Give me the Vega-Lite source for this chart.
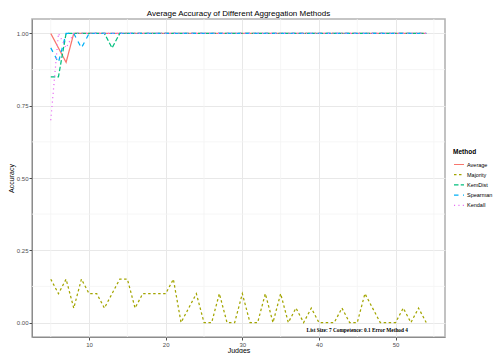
{
  "$schema": "https://vega.github.io/schema/vega-lite/v6.json",
  "width": 413,
  "height": 318,
  "autosize": {"type": "none"},
  "padding": {"left": 32, "top": 19, "right": 50, "bottom": 16},
  "background": "white",
  "title": {"text": "Average Accuracy of Different Aggregation Methods", "font": "Liberation Sans", "fontSize": 8, "fontWeight": "normal", "color": "#000000", "anchor": "middle", "offset": 1},
  "config": {
    "view": {"stroke": "#b3b3b3", "strokeWidth": 1.6},
    "axis": {"labelFont": "Liberation Sans", "titleFont": "Liberation Sans", "labelColor": "#4d4d4d", "titleColor": "#000000", "titleFontWeight": "normal", "tickColor": "#4d4d4d", "tickSize": 3, "domainColor": "#8c8c8c", "domainWidth": 1, "gridColor": "#e8e8e8", "gridWidth": 1}
  },
  "datasets": {
    "acc": [
      {"Judges": 5, "Method": "Average", "Accuracy": 1.0},
      {"Judges": 6, "Method": "Average", "Accuracy": 0.95},
      {"Judges": 7, "Method": "Average", "Accuracy": 0.9},
      {"Judges": 8, "Method": "Average", "Accuracy": 1.0},
      {"Judges": 9, "Method": "Average", "Accuracy": 1.0},
      {"Judges": 10, "Method": "Average", "Accuracy": 1.0},
      {"Judges": 11, "Method": "Average", "Accuracy": 1.0},
      {"Judges": 12, "Method": "Average", "Accuracy": 1.0},
      {"Judges": 13, "Method": "Average", "Accuracy": 1.0},
      {"Judges": 14, "Method": "Average", "Accuracy": 1.0},
      {"Judges": 15, "Method": "Average", "Accuracy": 1.0},
      {"Judges": 16, "Method": "Average", "Accuracy": 1.0},
      {"Judges": 17, "Method": "Average", "Accuracy": 1.0},
      {"Judges": 18, "Method": "Average", "Accuracy": 1.0},
      {"Judges": 19, "Method": "Average", "Accuracy": 1.0},
      {"Judges": 20, "Method": "Average", "Accuracy": 1.0},
      {"Judges": 21, "Method": "Average", "Accuracy": 1.0},
      {"Judges": 22, "Method": "Average", "Accuracy": 1.0},
      {"Judges": 23, "Method": "Average", "Accuracy": 1.0},
      {"Judges": 24, "Method": "Average", "Accuracy": 1.0},
      {"Judges": 25, "Method": "Average", "Accuracy": 1.0},
      {"Judges": 26, "Method": "Average", "Accuracy": 1.0},
      {"Judges": 27, "Method": "Average", "Accuracy": 1.0},
      {"Judges": 28, "Method": "Average", "Accuracy": 1.0},
      {"Judges": 29, "Method": "Average", "Accuracy": 1.0},
      {"Judges": 30, "Method": "Average", "Accuracy": 1.0},
      {"Judges": 31, "Method": "Average", "Accuracy": 1.0},
      {"Judges": 32, "Method": "Average", "Accuracy": 1.0},
      {"Judges": 33, "Method": "Average", "Accuracy": 1.0},
      {"Judges": 34, "Method": "Average", "Accuracy": 1.0},
      {"Judges": 35, "Method": "Average", "Accuracy": 1.0},
      {"Judges": 36, "Method": "Average", "Accuracy": 1.0},
      {"Judges": 37, "Method": "Average", "Accuracy": 1.0},
      {"Judges": 38, "Method": "Average", "Accuracy": 1.0},
      {"Judges": 39, "Method": "Average", "Accuracy": 1.0},
      {"Judges": 40, "Method": "Average", "Accuracy": 1.0},
      {"Judges": 41, "Method": "Average", "Accuracy": 1.0},
      {"Judges": 42, "Method": "Average", "Accuracy": 1.0},
      {"Judges": 43, "Method": "Average", "Accuracy": 1.0},
      {"Judges": 44, "Method": "Average", "Accuracy": 1.0},
      {"Judges": 45, "Method": "Average", "Accuracy": 1.0},
      {"Judges": 46, "Method": "Average", "Accuracy": 1.0},
      {"Judges": 47, "Method": "Average", "Accuracy": 1.0},
      {"Judges": 48, "Method": "Average", "Accuracy": 1.0},
      {"Judges": 49, "Method": "Average", "Accuracy": 1.0},
      {"Judges": 50, "Method": "Average", "Accuracy": 1.0},
      {"Judges": 51, "Method": "Average", "Accuracy": 1.0},
      {"Judges": 52, "Method": "Average", "Accuracy": 1.0},
      {"Judges": 53, "Method": "Average", "Accuracy": 1.0},
      {"Judges": 54, "Method": "Average", "Accuracy": 1.0},
      {"Judges": 5, "Method": "Majority", "Accuracy": 0.15},
      {"Judges": 6, "Method": "Majority", "Accuracy": 0.1},
      {"Judges": 7, "Method": "Majority", "Accuracy": 0.15},
      {"Judges": 8, "Method": "Majority", "Accuracy": 0.05},
      {"Judges": 9, "Method": "Majority", "Accuracy": 0.15},
      {"Judges": 10, "Method": "Majority", "Accuracy": 0.1},
      {"Judges": 11, "Method": "Majority", "Accuracy": 0.1},
      {"Judges": 12, "Method": "Majority", "Accuracy": 0.05},
      {"Judges": 13, "Method": "Majority", "Accuracy": 0.1},
      {"Judges": 14, "Method": "Majority", "Accuracy": 0.15},
      {"Judges": 15, "Method": "Majority", "Accuracy": 0.15},
      {"Judges": 16, "Method": "Majority", "Accuracy": 0.05},
      {"Judges": 17, "Method": "Majority", "Accuracy": 0.1},
      {"Judges": 18, "Method": "Majority", "Accuracy": 0.1},
      {"Judges": 19, "Method": "Majority", "Accuracy": 0.1},
      {"Judges": 20, "Method": "Majority", "Accuracy": 0.1},
      {"Judges": 21, "Method": "Majority", "Accuracy": 0.15},
      {"Judges": 22, "Method": "Majority", "Accuracy": 0.0},
      {"Judges": 23, "Method": "Majority", "Accuracy": 0.05},
      {"Judges": 24, "Method": "Majority", "Accuracy": 0.1},
      {"Judges": 25, "Method": "Majority", "Accuracy": 0.0},
      {"Judges": 26, "Method": "Majority", "Accuracy": 0.0},
      {"Judges": 27, "Method": "Majority", "Accuracy": 0.1},
      {"Judges": 28, "Method": "Majority", "Accuracy": 0.0},
      {"Judges": 29, "Method": "Majority", "Accuracy": 0.0},
      {"Judges": 30, "Method": "Majority", "Accuracy": 0.1},
      {"Judges": 31, "Method": "Majority", "Accuracy": 0.0},
      {"Judges": 32, "Method": "Majority", "Accuracy": 0.0},
      {"Judges": 33, "Method": "Majority", "Accuracy": 0.1},
      {"Judges": 34, "Method": "Majority", "Accuracy": 0.0},
      {"Judges": 35, "Method": "Majority", "Accuracy": 0.1},
      {"Judges": 36, "Method": "Majority", "Accuracy": 0.0},
      {"Judges": 37, "Method": "Majority", "Accuracy": 0.05},
      {"Judges": 38, "Method": "Majority", "Accuracy": 0.0},
      {"Judges": 39, "Method": "Majority", "Accuracy": 0.05},
      {"Judges": 40, "Method": "Majority", "Accuracy": 0.0},
      {"Judges": 41, "Method": "Majority", "Accuracy": 0.0},
      {"Judges": 42, "Method": "Majority", "Accuracy": 0.0},
      {"Judges": 43, "Method": "Majority", "Accuracy": 0.05},
      {"Judges": 44, "Method": "Majority", "Accuracy": 0.0},
      {"Judges": 45, "Method": "Majority", "Accuracy": 0.0},
      {"Judges": 46, "Method": "Majority", "Accuracy": 0.1},
      {"Judges": 47, "Method": "Majority", "Accuracy": 0.05},
      {"Judges": 48, "Method": "Majority", "Accuracy": 0.0},
      {"Judges": 49, "Method": "Majority", "Accuracy": 0.0},
      {"Judges": 50, "Method": "Majority", "Accuracy": 0.0},
      {"Judges": 51, "Method": "Majority", "Accuracy": 0.05},
      {"Judges": 52, "Method": "Majority", "Accuracy": 0.0},
      {"Judges": 53, "Method": "Majority", "Accuracy": 0.05},
      {"Judges": 54, "Method": "Majority", "Accuracy": 0.0},
      {"Judges": 5, "Method": "KemDist", "Accuracy": 0.85},
      {"Judges": 6, "Method": "KemDist", "Accuracy": 0.85},
      {"Judges": 7, "Method": "KemDist", "Accuracy": 1.0},
      {"Judges": 8, "Method": "KemDist", "Accuracy": 1.0},
      {"Judges": 9, "Method": "KemDist", "Accuracy": 1.0},
      {"Judges": 10, "Method": "KemDist", "Accuracy": 1.0},
      {"Judges": 11, "Method": "KemDist", "Accuracy": 1.0},
      {"Judges": 12, "Method": "KemDist", "Accuracy": 1.0},
      {"Judges": 13, "Method": "KemDist", "Accuracy": 0.95},
      {"Judges": 14, "Method": "KemDist", "Accuracy": 1.0},
      {"Judges": 15, "Method": "KemDist", "Accuracy": 1.0},
      {"Judges": 16, "Method": "KemDist", "Accuracy": 1.0},
      {"Judges": 17, "Method": "KemDist", "Accuracy": 1.0},
      {"Judges": 18, "Method": "KemDist", "Accuracy": 1.0},
      {"Judges": 19, "Method": "KemDist", "Accuracy": 1.0},
      {"Judges": 20, "Method": "KemDist", "Accuracy": 1.0},
      {"Judges": 21, "Method": "KemDist", "Accuracy": 1.0},
      {"Judges": 22, "Method": "KemDist", "Accuracy": 1.0},
      {"Judges": 23, "Method": "KemDist", "Accuracy": 1.0},
      {"Judges": 24, "Method": "KemDist", "Accuracy": 1.0},
      {"Judges": 25, "Method": "KemDist", "Accuracy": 1.0},
      {"Judges": 26, "Method": "KemDist", "Accuracy": 1.0},
      {"Judges": 27, "Method": "KemDist", "Accuracy": 1.0},
      {"Judges": 28, "Method": "KemDist", "Accuracy": 1.0},
      {"Judges": 29, "Method": "KemDist", "Accuracy": 1.0},
      {"Judges": 30, "Method": "KemDist", "Accuracy": 1.0},
      {"Judges": 31, "Method": "KemDist", "Accuracy": 1.0},
      {"Judges": 32, "Method": "KemDist", "Accuracy": 1.0},
      {"Judges": 33, "Method": "KemDist", "Accuracy": 1.0},
      {"Judges": 34, "Method": "KemDist", "Accuracy": 1.0},
      {"Judges": 35, "Method": "KemDist", "Accuracy": 1.0},
      {"Judges": 36, "Method": "KemDist", "Accuracy": 1.0},
      {"Judges": 37, "Method": "KemDist", "Accuracy": 1.0},
      {"Judges": 38, "Method": "KemDist", "Accuracy": 1.0},
      {"Judges": 39, "Method": "KemDist", "Accuracy": 1.0},
      {"Judges": 40, "Method": "KemDist", "Accuracy": 1.0},
      {"Judges": 41, "Method": "KemDist", "Accuracy": 1.0},
      {"Judges": 42, "Method": "KemDist", "Accuracy": 1.0},
      {"Judges": 43, "Method": "KemDist", "Accuracy": 1.0},
      {"Judges": 44, "Method": "KemDist", "Accuracy": 1.0},
      {"Judges": 45, "Method": "KemDist", "Accuracy": 1.0},
      {"Judges": 46, "Method": "KemDist", "Accuracy": 1.0},
      {"Judges": 47, "Method": "KemDist", "Accuracy": 1.0},
      {"Judges": 48, "Method": "KemDist", "Accuracy": 1.0},
      {"Judges": 49, "Method": "KemDist", "Accuracy": 1.0},
      {"Judges": 50, "Method": "KemDist", "Accuracy": 1.0},
      {"Judges": 51, "Method": "KemDist", "Accuracy": 1.0},
      {"Judges": 52, "Method": "KemDist", "Accuracy": 1.0},
      {"Judges": 53, "Method": "KemDist", "Accuracy": 1.0},
      {"Judges": 54, "Method": "KemDist", "Accuracy": 1.0},
      {"Judges": 5, "Method": "Spearman", "Accuracy": 0.95},
      {"Judges": 6, "Method": "Spearman", "Accuracy": 0.9},
      {"Judges": 7, "Method": "Spearman", "Accuracy": 1.0},
      {"Judges": 8, "Method": "Spearman", "Accuracy": 1.0},
      {"Judges": 9, "Method": "Spearman", "Accuracy": 0.95},
      {"Judges": 10, "Method": "Spearman", "Accuracy": 1.0},
      {"Judges": 11, "Method": "Spearman", "Accuracy": 1.0},
      {"Judges": 12, "Method": "Spearman", "Accuracy": 1.0},
      {"Judges": 13, "Method": "Spearman", "Accuracy": 1.0},
      {"Judges": 14, "Method": "Spearman", "Accuracy": 1.0},
      {"Judges": 15, "Method": "Spearman", "Accuracy": 1.0},
      {"Judges": 16, "Method": "Spearman", "Accuracy": 1.0},
      {"Judges": 17, "Method": "Spearman", "Accuracy": 1.0},
      {"Judges": 18, "Method": "Spearman", "Accuracy": 1.0},
      {"Judges": 19, "Method": "Spearman", "Accuracy": 1.0},
      {"Judges": 20, "Method": "Spearman", "Accuracy": 1.0},
      {"Judges": 21, "Method": "Spearman", "Accuracy": 1.0},
      {"Judges": 22, "Method": "Spearman", "Accuracy": 1.0},
      {"Judges": 23, "Method": "Spearman", "Accuracy": 1.0},
      {"Judges": 24, "Method": "Spearman", "Accuracy": 1.0},
      {"Judges": 25, "Method": "Spearman", "Accuracy": 1.0},
      {"Judges": 26, "Method": "Spearman", "Accuracy": 1.0},
      {"Judges": 27, "Method": "Spearman", "Accuracy": 1.0},
      {"Judges": 28, "Method": "Spearman", "Accuracy": 1.0},
      {"Judges": 29, "Method": "Spearman", "Accuracy": 1.0},
      {"Judges": 30, "Method": "Spearman", "Accuracy": 1.0},
      {"Judges": 31, "Method": "Spearman", "Accuracy": 1.0},
      {"Judges": 32, "Method": "Spearman", "Accuracy": 1.0},
      {"Judges": 33, "Method": "Spearman", "Accuracy": 1.0},
      {"Judges": 34, "Method": "Spearman", "Accuracy": 1.0},
      {"Judges": 35, "Method": "Spearman", "Accuracy": 1.0},
      {"Judges": 36, "Method": "Spearman", "Accuracy": 1.0},
      {"Judges": 37, "Method": "Spearman", "Accuracy": 1.0},
      {"Judges": 38, "Method": "Spearman", "Accuracy": 1.0},
      {"Judges": 39, "Method": "Spearman", "Accuracy": 1.0},
      {"Judges": 40, "Method": "Spearman", "Accuracy": 1.0},
      {"Judges": 41, "Method": "Spearman", "Accuracy": 1.0},
      {"Judges": 42, "Method": "Spearman", "Accuracy": 1.0},
      {"Judges": 43, "Method": "Spearman", "Accuracy": 1.0},
      {"Judges": 44, "Method": "Spearman", "Accuracy": 1.0},
      {"Judges": 45, "Method": "Spearman", "Accuracy": 1.0},
      {"Judges": 46, "Method": "Spearman", "Accuracy": 1.0},
      {"Judges": 47, "Method": "Spearman", "Accuracy": 1.0},
      {"Judges": 48, "Method": "Spearman", "Accuracy": 1.0},
      {"Judges": 49, "Method": "Spearman", "Accuracy": 1.0},
      {"Judges": 50, "Method": "Spearman", "Accuracy": 1.0},
      {"Judges": 51, "Method": "Spearman", "Accuracy": 1.0},
      {"Judges": 52, "Method": "Spearman", "Accuracy": 1.0},
      {"Judges": 53, "Method": "Spearman", "Accuracy": 1.0},
      {"Judges": 54, "Method": "Spearman", "Accuracy": 1.0},
      {"Judges": 5, "Method": "Kendall", "Accuracy": 0.7},
      {"Judges": 6, "Method": "Kendall", "Accuracy": 1.0},
      {"Judges": 7, "Method": "Kendall", "Accuracy": 0.95},
      {"Judges": 8, "Method": "Kendall", "Accuracy": 1.0},
      {"Judges": 9, "Method": "Kendall", "Accuracy": 1.0},
      {"Judges": 10, "Method": "Kendall", "Accuracy": 1.0},
      {"Judges": 11, "Method": "Kendall", "Accuracy": 1.0},
      {"Judges": 12, "Method": "Kendall", "Accuracy": 1.0},
      {"Judges": 13, "Method": "Kendall", "Accuracy": 1.0},
      {"Judges": 14, "Method": "Kendall", "Accuracy": 1.0},
      {"Judges": 15, "Method": "Kendall", "Accuracy": 1.0},
      {"Judges": 16, "Method": "Kendall", "Accuracy": 1.0},
      {"Judges": 17, "Method": "Kendall", "Accuracy": 1.0},
      {"Judges": 18, "Method": "Kendall", "Accuracy": 1.0},
      {"Judges": 19, "Method": "Kendall", "Accuracy": 1.0},
      {"Judges": 20, "Method": "Kendall", "Accuracy": 1.0},
      {"Judges": 21, "Method": "Kendall", "Accuracy": 1.0},
      {"Judges": 22, "Method": "Kendall", "Accuracy": 1.0},
      {"Judges": 23, "Method": "Kendall", "Accuracy": 1.0},
      {"Judges": 24, "Method": "Kendall", "Accuracy": 1.0},
      {"Judges": 25, "Method": "Kendall", "Accuracy": 1.0},
      {"Judges": 26, "Method": "Kendall", "Accuracy": 1.0},
      {"Judges": 27, "Method": "Kendall", "Accuracy": 1.0},
      {"Judges": 28, "Method": "Kendall", "Accuracy": 1.0},
      {"Judges": 29, "Method": "Kendall", "Accuracy": 1.0},
      {"Judges": 30, "Method": "Kendall", "Accuracy": 1.0},
      {"Judges": 31, "Method": "Kendall", "Accuracy": 1.0},
      {"Judges": 32, "Method": "Kendall", "Accuracy": 1.0},
      {"Judges": 33, "Method": "Kendall", "Accuracy": 1.0},
      {"Judges": 34, "Method": "Kendall", "Accuracy": 1.0},
      {"Judges": 35, "Method": "Kendall", "Accuracy": 1.0},
      {"Judges": 36, "Method": "Kendall", "Accuracy": 1.0},
      {"Judges": 37, "Method": "Kendall", "Accuracy": 1.0},
      {"Judges": 38, "Method": "Kendall", "Accuracy": 1.0},
      {"Judges": 39, "Method": "Kendall", "Accuracy": 1.0},
      {"Judges": 40, "Method": "Kendall", "Accuracy": 1.0},
      {"Judges": 41, "Method": "Kendall", "Accuracy": 1.0},
      {"Judges": 42, "Method": "Kendall", "Accuracy": 1.0},
      {"Judges": 43, "Method": "Kendall", "Accuracy": 1.0},
      {"Judges": 44, "Method": "Kendall", "Accuracy": 1.0},
      {"Judges": 45, "Method": "Kendall", "Accuracy": 1.0},
      {"Judges": 46, "Method": "Kendall", "Accuracy": 1.0},
      {"Judges": 47, "Method": "Kendall", "Accuracy": 1.0},
      {"Judges": 48, "Method": "Kendall", "Accuracy": 1.0},
      {"Judges": 49, "Method": "Kendall", "Accuracy": 1.0},
      {"Judges": 50, "Method": "Kendall", "Accuracy": 1.0},
      {"Judges": 51, "Method": "Kendall", "Accuracy": 1.0},
      {"Judges": 52, "Method": "Kendall", "Accuracy": 1.0},
      {"Judges": 53, "Method": "Kendall", "Accuracy": 1.0},
      {"Judges": 54, "Method": "Kendall", "Accuracy": 1.0}
    ],
    "minorx": [{"Judges": 5}, {"Judges": 15}, {"Judges": 25}, {"Judges": 35}, {"Judges": 45}, {"Judges": 55}],
    "minory": [{"Accuracy": 0.125}, {"Accuracy": 0.375}, {"Accuracy": 0.625}, {"Accuracy": 0.875}],
    "note": [{"Judges": 45, "Accuracy": -0.027, "label": "List Size: 7 Competence: 0.1 Error Method 4"}]
  },
  "encoding": {
    "x": {"field": "Judges", "type": "quantitative", "scale": {"domain": [2.55, 56.45], "nice": false, "zero": false},
          "axis": {"values": [10, 20, 30, 40, 50], "title": "Judges", "titleColor": "#000000", "titleFontSize": 7, "titlePadding": -1, "labelFontSize": 6, "labelPadding": 1, "grid": true}},
    "y": {"field": "Accuracy", "type": "quantitative", "scale": {"domain": [-0.05, 1.05], "nice": false, "zero": false},
          "axis": {"values": [0, 0.25, 0.5, 0.75, 1], "format": ".2f", "title": "Accuracy", "titleColor": "#000000", "titleFontSize": 7, "titlePadding": 2, "labelFontSize": 6, "labelPadding": 1, "grid": true}}
  },
  "layer": [
    {
      "data": {"name": "minorx"},
      "mark": {"type": "rule", "stroke": "#f4f4f4", "strokeWidth": 0.8},
      "encoding": {"y": null}
    },
    {
      "data": {"name": "minory"},
      "mark": {"type": "rule", "stroke": "#f4f4f4", "strokeWidth": 0.8},
      "encoding": {"x": null}
    },
    {
      "data": {"name": "acc"},
      "mark": {"type": "line", "strokeWidth": 1.25, "clip": true},
      "encoding": {
        "color": {"field": "Method", "type": "nominal",
                  "scale": {"domain": ["Average", "Majority", "KemDist", "Spearman", "Kendall"], "range": ["#F8766D", "#A3A500", "#00BF7D", "#00B0F6", "#E76BF3"]},
                  "legend": {"title": "Method", "orient": "none", "legendX": 421, "legendY": 130, "titleFont": "Liberation Sans", "titleFontSize": 6.5, "titleFontWeight": "bold", "titleColor": "#000000", "labelFont": "Liberation Sans", "labelFontSize": 5.5, "labelColor": "#000000", "symbolType": "stroke", "symbolSize": 100, "symbolStrokeWidth": 1.2, "rowPadding": 0.2, "labelOffset": 2, "titlePadding": 3}},
        "strokeDash": {"field": "Method", "type": "nominal",
                       "scale": {"domain": ["Average", "Majority", "KemDist", "Spearman", "Kendall"], "range": [[1, 0], [2.5, 2.5], [4.5, 2.2], [4.5, 4.5], [1.1, 3.3]]},
                       "legend": {"title": "Method"}},
        "order": {"field": "Judges", "type": "quantitative"}
      }
    },
    {
      "data": {"name": "note"},
      "mark": {"type": "text", "font": "Liberation Serif", "fontWeight": "bold", "fontSize": 5.3, "color": "#000000", "align": "center", "baseline": "middle"},
      "encoding": {
        "text": {"field": "label"}
      }
    }
  ]
}
